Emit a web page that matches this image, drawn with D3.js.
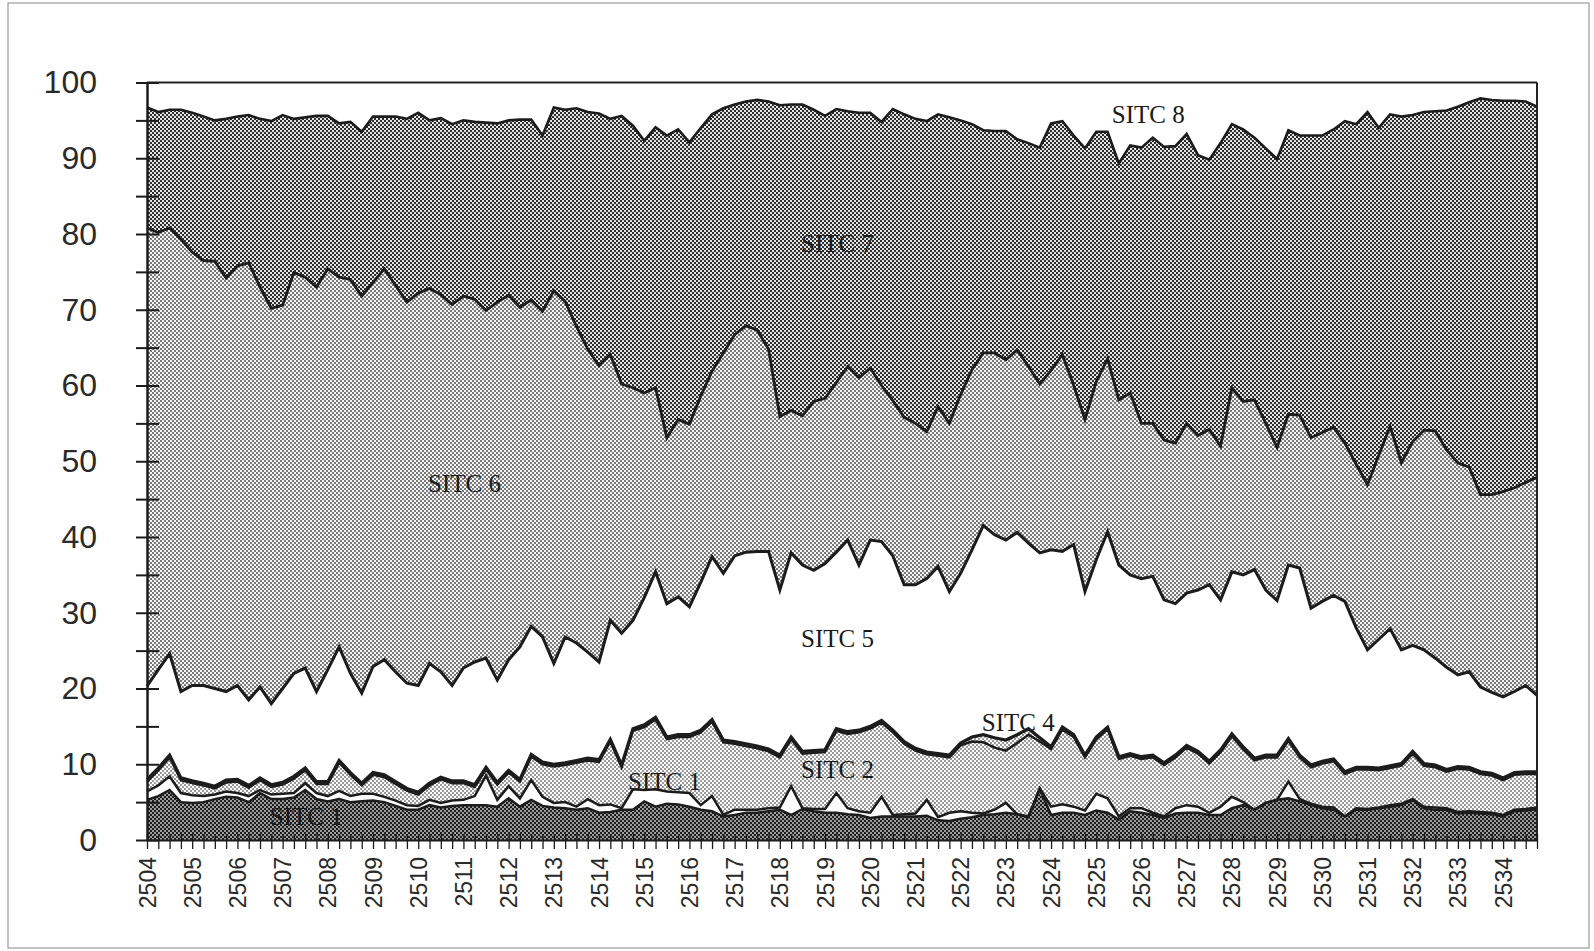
<!DOCTYPE html>
<meta charset="utf-8">
<script src="https://d3js.org/d3.v7.min.js"></script>
<style>
  body { margin: 0; background: #fff; }
  svg { display: block; }
</style>
<div id="chart"></div>
<script>

// years on the x axis, each split in 4 quarters (2504 Q1 .. 2534 Q4)
var years = [2504, 2505, 2506, 2507, 2508, 2509, 2510, 2511, 2512, 2513, 2514,
             2515, 2516, 2517, 2518, 2519, 2520, 2521, 2522, 2523, 2524,
             2525, 2526, 2527, 2528, 2529, 2530, 2531, 2532, 2533, 2534];
var quarters = ["Q1", "Q2", "Q3", "Q4"];

// cumulative share (%) at the top of each band, one value per quarter
var sitc0Top = [5.3, 5.8, 6.6, 5.0, 4.9, 5.0, 5.4, 5.7, 5.6, 5.0,
  6.2, 5.4, 5.4, 5.6, 6.6, 5.4, 5.1, 5.4, 5.0, 5.1,
  5.2, 5.0, 4.5, 4.0, 4.0, 4.6, 4.3, 4.5, 4.6, 4.6,
  4.6, 4.4, 5.5, 4.4, 5.3, 4.5, 4.3, 4.2, 4.0, 4.2,
  3.6, 3.7, 4.0, 4.0, 5.1, 4.4, 4.8, 4.7, 4.4, 4.0,
  3.8, 3.1, 3.3, 3.6, 3.6, 3.8, 4.0, 3.3, 4.1, 3.8,
  3.6, 3.6, 3.4, 3.3, 2.9, 3.1, 3.1, 3.1, 3.1, 3.2,
  2.6, 2.5, 2.8, 3.0, 3.3, 3.4, 3.6, 3.4, 3.0, 6.8,
  3.3, 3.6, 3.6, 3.3, 3.9, 3.6, 2.7, 3.8, 3.6, 3.3,
  2.9, 3.5, 3.6, 3.6, 3.3, 3.3, 4.2, 4.6, 4.0, 4.9,
  5.3, 5.5, 5.1, 4.6, 4.2, 4.0, 3.1, 4.0, 4.0, 4.2,
  4.4, 4.6, 5.3, 4.2, 4.0, 4.0, 3.5, 3.6, 3.5, 3.4,
  3.1, 3.8, 3.9, 4.1];

var sitc1Top = [6.4, 7.2, 8.4, 6.2, 5.9, 5.8, 6.0, 6.4, 6.2, 5.8,
  6.6, 6.0, 6.1, 6.2, 7.5, 6.2, 5.8, 6.5, 5.8, 6.1,
  6.1, 5.7, 5.2, 4.6, 4.5, 5.3, 4.9, 5.2, 5.3, 5.8,
  8.5, 5.3, 7.1, 5.5, 7.9, 5.7, 4.9, 5.0, 4.4, 5.4,
  4.6, 4.7, 4.2, 6.7, 6.6, 6.7, 6.4, 6.3, 6.2, 4.6,
  5.8, 3.3, 4.0, 4.0, 4.0, 4.2, 4.3, 7.1, 4.2, 4.1,
  4.1, 6.2, 4.2, 3.8, 3.6, 5.7, 3.3, 3.4, 3.5, 5.3,
  3.0, 3.6, 3.8, 3.6, 3.5, 4.0, 4.9, 3.4, 3.1, 6.8,
  4.4, 4.7, 4.4, 3.9, 6.1, 5.5, 3.1, 4.2, 4.2, 3.6,
  3.1, 4.2, 4.6, 4.4, 3.6, 4.4, 5.7, 5.0, 4.0, 4.9,
  5.3, 7.7, 5.4, 4.8, 4.4, 4.3, 3.1, 4.2, 4.1, 4.3,
  4.6, 4.8, 5.4, 4.4, 4.3, 4.2, 3.7, 3.8, 3.7, 3.6,
  3.3, 4.0, 4.1, 4.3];

var sitc2Top = [7.7, 9.2, 10.9, 7.9, 7.5, 7.2, 6.8, 7.6, 7.7, 6.9,
  7.9, 7.0, 7.3, 8.1, 9.2, 7.4, 7.4, 10.2, 8.6, 7.2,
  8.6, 8.3, 7.4, 6.5, 6.0, 7.2, 8.0, 7.5, 7.5, 7.0,
  9.3, 7.3, 8.9, 7.7, 11.0, 10.0, 9.7, 9.9, 10.2, 10.5,
  10.3, 13.0, 9.6, 14.4, 14.9, 15.9, 13.3, 13.6, 13.6, 14.2,
  15.6, 12.9, 12.7, 12.4, 12.1, 11.7, 10.9, 13.3, 11.4, 11.5,
  11.6, 14.4, 14.0, 14.2, 14.7, 15.5, 14.2, 12.7, 11.8, 11.3,
  11.1, 10.9, 12.5, 13.0, 12.9, 12.2, 11.8, 12.8, 13.9, 13.0,
  12.0, 14.6, 13.6, 10.9, 13.3, 14.6, 10.7, 11.1, 10.7, 10.9,
  9.9, 10.9, 12.2, 11.4, 10.1, 11.6, 13.7, 12.0, 10.5, 10.9,
  10.9, 13.1, 10.9, 9.6, 10.1, 10.4, 8.7, 9.3, 9.3, 9.2,
  9.5, 9.8, 11.4, 9.8, 9.6, 9.0, 9.4, 9.3, 8.7, 8.5,
  7.9, 8.6, 8.7, 8.7];

var sitc4Top = [8.0, 9.5, 11.2, 8.2, 7.8, 7.5, 7.1, 7.9, 8.0, 7.2,
  8.2, 7.3, 7.6, 8.4, 9.5, 7.7, 7.7, 10.5, 8.9, 7.5,
  8.9, 8.6, 7.7, 6.8, 6.3, 7.5, 8.3, 7.8, 7.8, 7.3,
  9.6, 7.6, 9.2, 8.0, 11.3, 10.3, 10.0, 10.2, 10.5, 10.8,
  10.6, 13.3, 9.9, 14.7, 15.2, 16.2, 13.6, 13.9, 13.9, 14.5,
  15.9, 13.2, 13.0, 12.7, 12.4, 12.0, 11.2, 13.6, 11.7, 11.8,
  11.9, 14.7, 14.3, 14.5, 15.0, 15.8, 14.5, 13.0, 12.1, 11.6,
  11.4, 11.2, 12.8, 13.6, 13.9, 13.5, 13.2, 13.9, 14.7, 13.5,
  12.3, 14.9, 13.9, 11.2, 13.6, 14.9, 11.0, 11.4, 11.0, 11.2,
  10.2, 11.2, 12.5, 11.7, 10.4, 11.9, 14.0, 12.3, 10.8, 11.2,
  11.2, 13.4, 11.2, 9.9, 10.4, 10.7, 9.0, 9.6, 9.6, 9.5,
  9.8, 10.1, 11.7, 10.1, 9.9, 9.3, 9.7, 9.6, 9.0, 8.8,
  8.2, 8.9, 9.0, 9.0];

var sitc5Top = [20.3, 22.5, 24.6, 19.6, 20.4, 20.4, 20.0, 19.6, 20.4, 18.5,
  20.2, 18.0, 20.0, 22.0, 22.7, 19.6, 22.5, 25.5, 22.0, 19.4,
  22.9, 23.8, 22.2, 20.7, 20.4, 23.3, 22.2, 20.4, 22.7, 23.5,
  24.0, 21.1, 23.8, 25.5, 28.2, 26.8, 23.3, 26.8, 26.0, 24.8,
  23.5, 29.0, 27.3, 29.0, 32.0, 35.4, 31.2, 32.1, 30.8, 34.0,
  37.4, 35.2, 37.5, 38.0, 38.1, 38.1, 33.0, 37.9, 36.3, 35.6,
  36.5, 38.0, 39.6, 36.3, 39.6, 39.4, 37.5, 33.7, 33.7, 34.5,
  36.1, 32.8, 35.2, 38.3, 41.5, 40.3, 39.6, 40.6, 39.2, 37.9,
  38.3, 38.1, 39.0, 32.8, 37.0, 40.7, 36.3, 35.0, 34.5, 34.8,
  31.7, 31.2, 32.6, 33.0, 33.7, 31.7, 35.4, 35.0, 35.7, 33.0,
  31.6, 36.3, 35.9, 30.6, 31.5, 32.3, 31.5, 28.0, 25.1, 26.5,
  27.9, 25.1, 25.7, 25.1, 24.0, 22.8, 21.8, 22.2, 20.2, 19.5,
  18.9, 19.6, 20.4, 19.1];

var sitc6Top = [80.8, 80.2, 80.8, 79.3, 77.6, 76.5, 76.4, 74.2, 75.8, 76.2,
  73.0, 70.2, 70.6, 74.9, 74.3, 73.0, 75.4, 74.3, 74.0, 71.8,
  73.6, 75.4, 73.2, 71.0, 72.2, 72.8, 72.0, 70.7, 71.8, 71.4,
  69.9, 71.0, 71.9, 70.3, 71.3, 69.8, 72.5, 71.1, 67.8, 64.8,
  62.6, 64.1, 60.2, 59.7, 59.0, 59.7, 53.1, 55.5, 54.9, 58.6,
  61.9, 64.3, 66.7, 67.9, 67.3, 64.8, 55.9, 56.7, 56.0, 57.9,
  58.3, 60.4, 62.5, 61.0, 62.3, 60.0, 58.0, 55.8, 55.0, 53.9,
  57.2, 55.0, 58.8, 62.1, 64.3, 64.3, 63.4, 64.7, 62.5, 60.2,
  62.0, 64.1, 60.0, 55.5, 60.5, 63.5, 58.1, 59.0, 55.0, 55.0,
  52.8, 52.4, 55.0, 53.4, 54.2, 52.0, 59.7, 57.9, 58.1, 55.0,
  51.8, 56.2, 56.1, 53.1, 53.8, 54.5, 52.4, 49.6, 46.9, 50.8,
  54.6, 49.8, 52.6, 54.1, 54.0, 51.5, 49.8, 49.2, 45.6, 45.6,
  46.0, 46.5, 47.2, 47.9];

var sitc7Top = [96.7, 96.1, 96.4, 96.4, 96.0, 95.5, 95.0, 95.2, 95.5, 95.7,
  95.2, 94.9, 95.7, 95.2, 95.4, 95.6, 95.6, 94.6, 94.8, 93.5,
  95.5, 95.5, 95.5, 95.2, 96.0, 95.0, 95.3, 94.5, 95.0, 94.8,
  94.7, 94.6, 95.0, 95.1, 95.1, 93.0, 96.7, 96.4, 96.6, 96.1,
  95.9, 95.2, 95.6, 94.3, 92.3, 94.1, 93.0, 93.8, 92.1, 94.0,
  95.8, 96.6, 97.1, 97.5, 97.7, 97.5, 97.0, 97.1, 97.1, 96.4,
  95.6, 96.5, 96.2, 96.0, 96.0, 94.8, 96.5, 95.8, 95.2, 94.9,
  95.8, 95.4, 95.0, 94.5, 93.7, 93.6, 93.6, 92.5, 92.0, 91.4,
  94.6, 94.9, 93.0, 91.3, 93.5, 93.5, 89.3, 91.7, 91.4, 92.7,
  91.5, 91.6, 93.2, 90.4, 89.8, 92.0, 94.5, 93.8, 92.7, 91.3,
  89.9, 93.7, 93.0, 93.0, 93.0, 93.8, 94.9, 94.5, 96.1, 94.0,
  95.8, 95.5, 95.7, 96.1, 96.2, 96.3, 96.8, 97.4, 97.9, 97.7,
  97.6, 97.6, 97.5, 96.8];

var sitc8Top = 100;

// band labels as printed on the chart
var bandLabels = ["SITC 8", "SITC 7", "SITC 6", "SITC 5", "SITC 4", "SITC 2", "SITC 1", "SITC 1"];

// where each label sits, in data units (quarter index, percent at baseline)
var labelAnchors = [[88.6, 94.7], [61.1, 77.6], [28.1, 45.9], [61.1, 25.5],
                    [77.1, 14.4], [61.1, 8.2], [45.8, 6.6], [14.1, 2.0]];

var W = 1594, H = 951;
var n = sitc0Top.length;
var zero = sitc0Top.map(function() { return 0; });
var hundred = sitc0Top.map(function() { return sitc8Top; });

var svg = d3.select("#chart").append("svg")
    .attr("width", W)
    .attr("height", H);

// paper frame
svg.append("rect")
    .attr("x", 8).attr("y", 3)
    .attr("width", 1581).attr("height", 945)
    .attr("fill", "#fff")
    .attr("stroke", "#9a9a9a")
    .attr("stroke-width", 1.2);

var x = d3.scaleLinear().domain([0, n - 1]).range([147, 1537]);
var y = d3.scaleLinear().domain([0, 100]).range([840, 82.5]);

// screen-tone fills
var defs = svg.append("defs");
function tone(id, bg, fg) {
  var p = defs.append("pattern")
      .attr("id", id)
      .attr("patternUnits", "userSpaceOnUse")
      .attr("width", 4).attr("height", 4);
  p.append("rect").attr("width", 4).attr("height", 4).attr("fill", bg);
  p.append("rect").attr("x", 0).attr("y", 0).attr("width", 2).attr("height", 2).attr("fill", fg);
  p.append("rect").attr("x", 2).attr("y", 2).attr("width", 2).attr("height", 2).attr("fill", fg);
}
tone("tone0", "#9c9c9c", "#1e1e1e");
tone("tone2", "#ffffff", "#9a9a9a");
tone("tone6", "#f4f4f4", "#7a7a7a");
tone("tone7", "#e4e4e4", "#2e2e2e");

var bands = [
  {lo: zero,     hi: sitc0Top, fill: "url(#tone0)"},
  {lo: sitc0Top, hi: sitc1Top, fill: "#ffffff"},
  {lo: sitc1Top, hi: sitc2Top, fill: "url(#tone2)"},
  {lo: sitc2Top, hi: sitc4Top, fill: "url(#tone2)"},
  {lo: sitc4Top, hi: sitc5Top, fill: "#ffffff"},
  {lo: sitc5Top, hi: sitc6Top, fill: "url(#tone6)"},
  {lo: sitc6Top, hi: sitc7Top, fill: "url(#tone7)"},
  {lo: sitc7Top, hi: hundred,  fill: "#ffffff"}
];

var idx = d3.range(n);

bands.forEach(function(b) {
  var area = d3.area()
      .x(function(i) { return x(i); })
      .y0(function(i) { return y(b.lo[i]); })
      .y1(function(i) { return y(b.hi[i]); });
  svg.append("path")
      .datum(idx)
      .attr("d", area)
      .attr("fill", b.fill)
      .attr("stroke", "none");
});

// boundary lines between the bands
var borders = [
  {v: sitc0Top, w: 2.5},
  {v: sitc1Top, w: 2.5},
  {v: sitc2Top, w: 2.4},
  {v: sitc4Top, w: 3.2},
  {v: sitc5Top, w: 3.0},
  {v: sitc6Top, w: 2.8},
  {v: sitc7Top, w: 2.6}
];
borders.forEach(function(b) {
  var line = d3.line()
      .x(function(i) { return x(i); })
      .y(function(i) { return y(b.v[i]); });
  svg.append("path")
      .datum(idx)
      .attr("d", line)
      .attr("fill", "none")
      .attr("stroke", "#1c1c1c")
      .attr("stroke-width", b.w)
      .attr("stroke-linejoin", "miter")
      .attr("stroke-miterlimit", 4);
});

// top and right edge of the plot
svg.append("line")
    .attr("x1", x(0)).attr("x2", x(n - 1))
    .attr("y1", y(100)).attr("y2", y(100))
    .attr("stroke", "#222").attr("stroke-width", 2);
svg.append("line")
    .attr("x1", x(n - 1)).attr("x2", x(n - 1))
    .attr("y1", y(100)).attr("y2", y(0))
    .attr("stroke", "#222").attr("stroke-width", 2);

// y axis
var yAxis = svg.append("g")
    .attr("transform", "translate(" + x(0) + ",0)")
    .call(d3.axisLeft(y)
      .tickValues(d3.range(0, 101, 5))
      .tickSize(11)
      .tickSizeOuter(0)
      .tickPadding(39)
      .tickFormat(function(d) { return d % 10 === 0 ? d : ""; }));
yAxis.select(".domain").attr("stroke", "#1c1c1c").attr("stroke-width", 2.5);
yAxis.selectAll(".tick line").attr("x1", 12).attr("stroke", "#1c1c1c").attr("stroke-width", 2);
yAxis.selectAll(".tick text")
    .attr("fill", "#2a2a2a")
    .style("font-family", "'Liberation Sans', Arial, sans-serif")
    .style("font-size", "32px");

// x axis: one tick per quarter, a label on each year
var xAxis = svg.append("g")
    .attr("transform", "translate(0," + y(0) + ")")
    .call(d3.axisBottom(x)
      .tickValues(idx)
      .tickSize(9)
      .tickSizeOuter(0)
      .tickFormat(function(i) { return i % quarters.length === 0 ? years[i / quarters.length] : ""; }));
xAxis.select(".domain").attr("stroke", "#1c1c1c").attr("stroke-width", 2);
xAxis.selectAll(".tick line").attr("y1", -6).attr("stroke", "#1c1c1c").attr("stroke-width", 1.3);
xAxis.selectAll(".tick text")
    .attr("transform", "rotate(-90)")
    .attr("x", -17)
    .attr("y", 0)
    .attr("dy", "0.35em")
    .style("text-anchor", "end")
    .attr("fill", "#2a2a2a")
    .style("font-family", "'Liberation Sans', Arial, sans-serif")
    .style("font-size", "23px");

// band names
svg.selectAll(".band-label")
    .data(bandLabels)
    .enter().append("text")
      .attr("class", "band-label")
      .attr("x", function(d, k) { return x(labelAnchors[k][0]); })
      .attr("y", function(d, k) { return y(labelAnchors[k][1]); })
      .attr("text-anchor", "middle")
      .attr("fill", "#1a1a1a")
      .style("font-family", "'Liberation Serif', 'Times New Roman', serif")
      .style("font-size", "25px")
      .text(function(d) { return d; });

</script>
